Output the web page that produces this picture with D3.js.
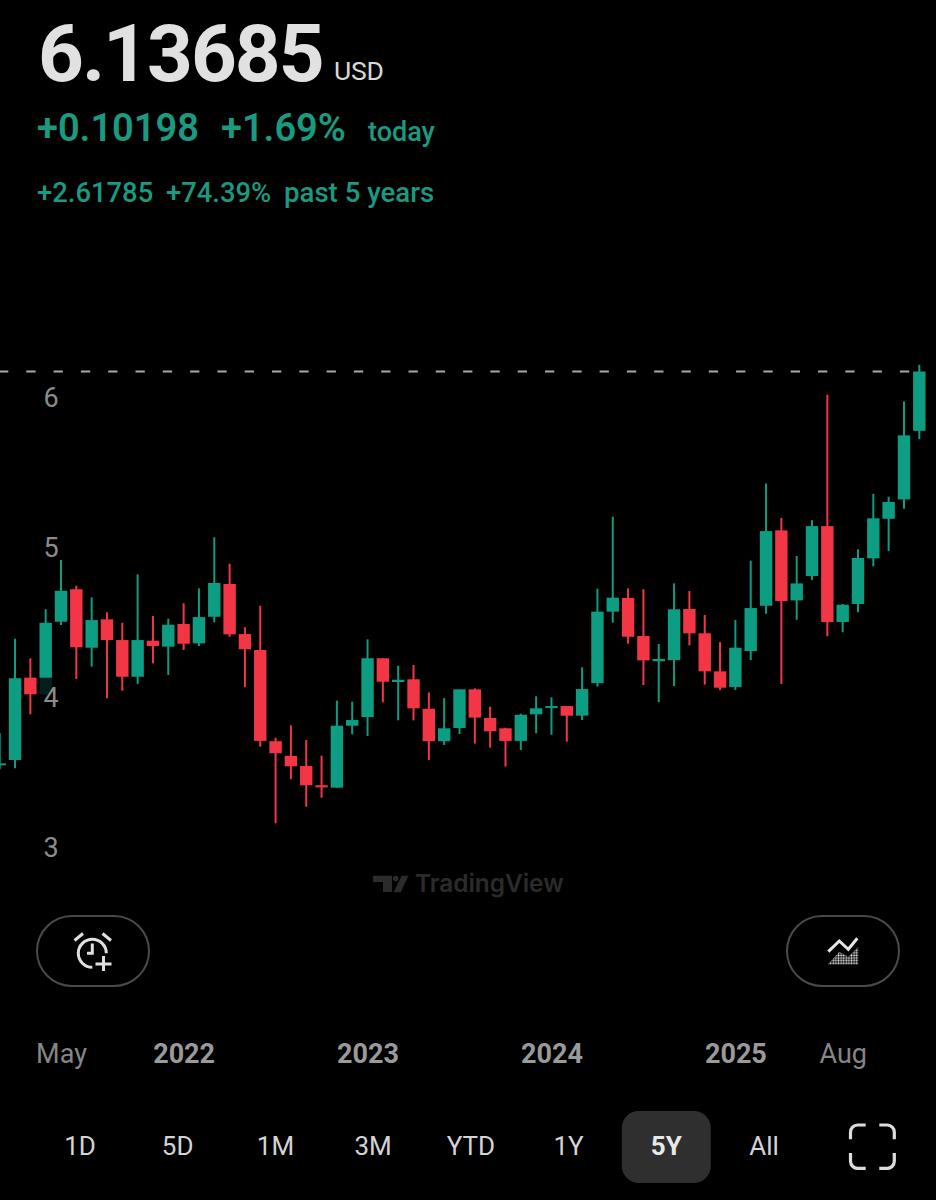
<!DOCTYPE html>
<html>
<head>
<meta charset="utf-8">
<script src="https://cdn.jsdelivr.net/npm/d3@7"></script>
<style>
  html, body { margin: 0; padding: 0; background: #000; }
  svg { display: block; font-family: Roboto, sans-serif; }
</style>
</head>
<body>
<div id="svgcontainer"></div>
<script>
// monthly candles, Jan 2021 to Jan 2026
var open = [3.519,3.552,4.100,3.989,4.472,4.688,4.299,4.488,4.350,4.106,4.346,4.306,4.457,4.328,4.505,4.723,4.390,4.284,3.677,3.579,
  3.512,3.384,3.368,3.780,3.838,4.229,4.071,4.089,3.893,3.677,3.765,4.022,3.832,3.763,3.679,3.856,3.898,3.911,3.847,4.064,
  4.539,4.630,4.377,4.209,4.217,4.557,4.395,4.142,4.038,4.277,4.578,5.080,4.614,4.776,5.108,4.470,4.590,4.894,5.157,5.286,5.742];
var high = [3.730,4.359,4.229,4.555,4.883,4.712,4.634,4.535,4.465,4.787,4.510,4.492,4.595,4.694,5.034,4.858,4.435,4.578,3.700,3.783,
  3.685,3.581,3.947,3.940,4.355,4.229,4.179,4.184,4.002,3.963,4.022,4.029,3.907,3.767,3.860,3.976,3.969,3.911,4.169,4.692,
  5.171,4.694,4.689,4.324,4.727,4.676,4.517,4.337,4.483,4.878,5.392,5.162,4.909,5.148,5.982,4.590,4.954,5.323,5.304,5.938,6.181];
var low = [3.490,3.497,3.856,3.985,4.450,4.091,4.173,3.963,4.013,4.058,4.195,4.118,4.284,4.310,4.468,4.372,4.036,3.641,3.131,3.424,
  3.241,3.301,3.366,3.723,3.712,3.936,3.816,3.816,3.552,3.652,3.725,3.661,3.634,3.508,3.619,3.730,3.720,3.674,3.818,4.040,
  4.465,4.326,4.051,3.938,4.044,4.315,4.053,4.018,4.018,4.217,4.525,4.058,4.485,4.750,4.375,4.402,4.535,4.841,4.942,5.224,5.687];
var close = [3.530,4.096,3.989,4.465,4.678,4.302,4.483,4.350,4.106,4.350,4.310,4.452,4.326,4.503,4.730,4.388,4.289,3.679,3.597,3.510,
  3.384,3.370,3.780,3.818,4.229,4.073,4.086,3.896,3.677,3.763,4.022,3.834,3.743,3.679,3.853,3.896,3.911,3.847,4.024,4.539,
  4.632,4.372,4.215,4.224,4.555,4.395,4.142,4.033,4.299,4.563,5.075,4.610,4.727,5.108,4.470,4.585,4.896,5.160,5.269,5.712,6.13685];

var priceTicks = [3, 4, 5, 6];
var lastPrice = 6.13685;
var timeTickIndex = [4, 12, 24, 36, 48, 55];
var timeTickLabels = ["May", "2022", "2023", "2024", "2025", "Aug"];
var rangeLabels = ["1D", "5D", "1M", "3M", "YTD", "1Y", "5Y", "All"];
var activeRange = "5Y";

var width = 936;
var height = 1200;

var green = "#0c9d82";
var red = "#f23645";
var textGreen = "#1a9a80";

var svg = d3.select("#svgcontainer")
  .append("svg")
  .attr("width", width)
  .attr("height", height);

svg.append("rect").attr("width", width).attr("height", height).attr("fill", "#000");

var x = d3.scaleLinear().domain([0, 60]).range([-0.3, 919.3]);
var y = d3.scaleLinear().domain([3, lastPrice]).range([842.97, 371.5]);

// header
function label(txt, px, py, size, weight, color) {
  return svg.append("text")
    .attr("x", px).attr("y", py)
    .attr("font-size", size).attr("font-weight", weight)
    .attr("fill", color)
    .text(txt);
}
label("6.13685", 38, 81, 80, 700, "#e1e1e1").attr("letter-spacing", -2);
label("USD", 334, 80, 26.5, 400, "#d8d8d8").attr("letter-spacing", -0.2);
label("+0.10198", 37, 141, 38, 600, textGreen);
label("+1.69%", 221, 141, 38, 600, textGreen);
label("today", 368, 141, 27, 500, textGreen);
label("+2.61785", 37, 202, 27.4, 500, textGreen);
label("+74.39%", 166, 202, 27.4, 500, textGreen);
label("past 5 years", 284, 202, 27.6, 500, textGreen);

// last price line, stops under the last candle
svg.append("line")
  .attr("x1", -1).attr("x2", x(60))
  .attr("y1", y(lastPrice)).attr("y2", y(lastPrice))
  .attr("stroke", "#a8a8a8")
  .attr("stroke-width", 1.8)
  .attr("stroke-dasharray", "9.3 18");

// candles
var idx = d3.range(open.length);
var candles = svg.append("g").attr("class", "candles")
  .selectAll("g").data(idx).enter().append("g");

candles.append("line")
  .attr("x1", function(i) { return x(i); })
  .attr("x2", function(i) { return x(i); })
  .attr("y1", function(i) { return y(high[i]); })
  .attr("y2", function(i) { return y(low[i]); })
  .attr("stroke-width", 2)
  .attr("stroke", function(i) { return close[i] >= open[i] ? green : red; });

candles.append("rect")
  .attr("x", function(i) { return x(i) - 6.2; })
  .attr("width", 12.4)
  .attr("y", function(i) { return y(Math.max(open[i], close[i])); })
  .attr("height", function(i) { return Math.max(2, Math.abs(y(open[i]) - y(close[i]))); })
  .attr("fill", function(i) { return close[i] >= open[i] ? green : red; });

// price scale, labels sit over the candles on a dark backing
svg.append("g").selectAll("rect").data(priceTicks).enter().append("rect")
  .attr("x", 38).attr("width", 22)
  .attr("y", function(d) { return y(d) - 15; })
  .attr("height", 40)
  .attr("fill", "rgba(0,0,0,0.8)");

var yAxis = svg.append("g")
  .call(d3.axisLeft(y).tickValues(priceTicks).tickSize(0).tickFormat(d3.format("d")));
yAxis.select(".domain").remove();
yAxis.selectAll("text")
  .attr("x", 43.5).attr("dy", 14)
  .attr("text-anchor", "start")
  .attr("font-family", "Roboto, sans-serif")
  .attr("font-size", 27)
  .attr("fill", "#8c8c8c");

// watermark
var logo = svg.append("g").attr("fill", "#2b2b2b");
logo.append("path").attr("d", "M373 875.7H392V892H383V882H373Z");
logo.append("circle").attr("cx", 395.7).attr("cy", 878.5).attr("r", 2.8);
logo.append("path").attr("d", "M401.7 875.7H408.5L400.7 892.3H393.5Z");
label("TradingView", 415, 892, 24.4, 600, "#2b2b2b").attr("font-family", "Inter, sans-serif");

// pill buttons
[37, 787].forEach(function(bx) {
  svg.append("rect")
    .attr("x", bx).attr("y", 916)
    .attr("width", 112).attr("height", 70)
    .attr("rx", 35)
    .attr("fill", "none")
    .attr("stroke", "#4a4a4a")
    .attr("stroke-width", 2);
});

var alarm = svg.append("g")
  .attr("fill", "none").attr("stroke", "#e0e0e0").attr("stroke-width", 3).attr("stroke-linecap", "butt");
alarm.append("path").attr("d", "M92.3 967.3A14 14 0 1 1 106.3 953.3");
alarm.append("path").attr("d", "M92.3 943.5V953.3H87");
alarm.append("path").attr("d", "M74.5 940.5L83 933.5");
alarm.append("path").attr("d", "M102.5 933.5L111 940.5");
alarm.append("path").attr("d", "M95.5 964H111.5M103.5 956V971");

var defs = svg.append("defs");
defs.append("pattern")
  .attr("id", "dots").attr("patternUnits", "userSpaceOnUse")
  .attr("width", 2.6).attr("height", 2.6)
  .append("circle").attr("cx", 1.3).attr("cy", 1.3).attr("r", 1).attr("fill", "#e4e4e4");
svg.append("path")
  .attr("d", "M827.7 964.5L839.3 951.7L848.3 956.7L858.3 946.7V964.5Z")
  .attr("fill", "url(#dots)");
svg.append("path")
  .attr("d", "M828.3 951.7L839.3 941L848.3 949.3L857.3 938.3")
  .attr("fill", "none").attr("stroke", "#e6e6e6").attr("stroke-width", 3);

// time axis
var xAxis = svg.append("g")
  .attr("transform", "translate(0,1040)")
  .call(d3.axisBottom(x).tickValues(timeTickIndex).tickSize(0)
    .tickFormat(function(d, i) { return timeTickLabels[i]; }));
xAxis.select(".domain").remove();
xAxis.selectAll("text")
  .attr("y", 23).attr("dy", 0)
  .attr("font-family", "Roboto, sans-serif")
  .attr("font-size", 27)
  .attr("font-weight", function(d, i) { return isNaN(+timeTickLabels[i]) ? 400 : 700; })
  .attr("fill", function(d, i) { return isNaN(+timeTickLabels[i]) ? "#868686" : "#9a9a9a"; });

// range selector
var rx = d3.scalePoint().domain(rangeLabels).range([80, 764]);
svg.append("rect")
  .attr("x", rx(activeRange) - 44.5).attr("y", 1111)
  .attr("width", 89).attr("height", 72)
  .attr("rx", 17).attr("fill", "#2f2f2f");
svg.append("g").selectAll("text").data(rangeLabels).enter().append("text")
  .attr("x", function(d) { return rx(d); })
  .attr("y", 1155)
  .attr("text-anchor", "middle")
  .attr("font-size", 26)
  .attr("font-weight", function(d) { return d == activeRange ? 700 : 400; })
  .attr("fill", function(d) { return d == activeRange ? "#e8e8e8" : "#d4d4d4"; })
  .text(function(d) { return d; });

// fullscreen icon
svg.append("path")
  .attr("d", "M850.5 1139.3V1132A7 7 0 0 1 857.5 1125H865.7M879.3 1125H887.3A7 7 0 0 1 894.3 1132V1139.3M894.3 1153V1161.3A7 7 0 0 1 887.3 1168.3H879.3M865.7 1168.3H857.5A7 7 0 0 1 850.5 1161.3V1153")
  .attr("fill", "none").attr("stroke", "#dcdcdc").attr("stroke-width", 3.2);
</script>
</body>
</html>
